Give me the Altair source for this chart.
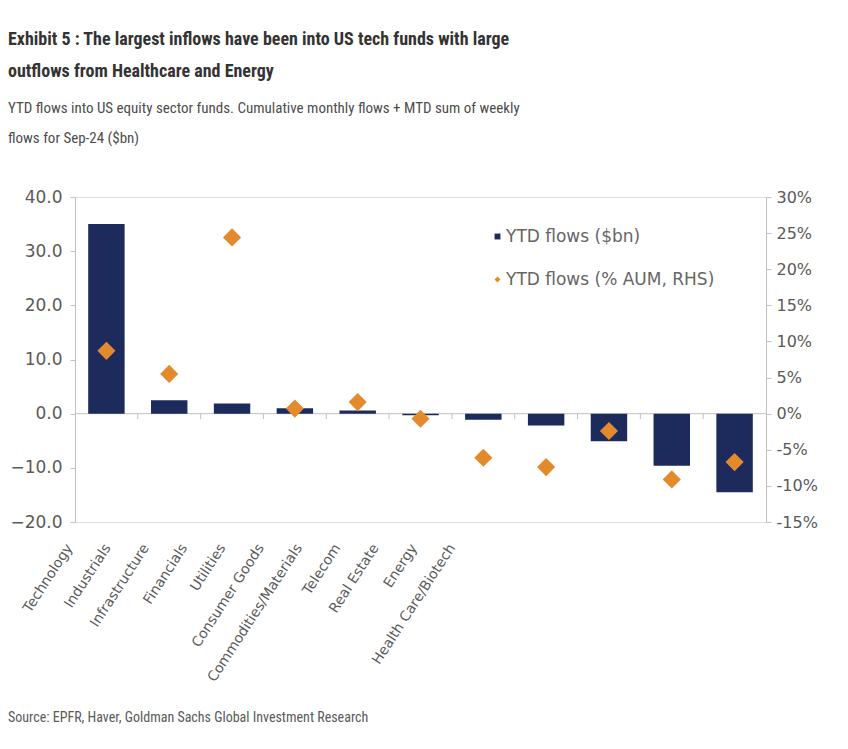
import altair as alt
import pandas as pd

categories = ["Technology", "Industrials", "Infrastructure", "Financials", "Utilities",
              "Consumer Goods", "Commodities/Materials", "Telecom", "Real Estate",
              "Energy", "Health Care/Biotech"]
flows_bn = [35.0, 2.5, 1.9, 1.0, 0.6, -0.3, -1.1, -2.2, -5.1, -9.6, -14.5]
flows_pct = [8.7, 5.5, 24.4, 0.7, 1.6, -0.7, -6.1, -7.4, -2.4, -9.1, -6.7]
series_names = ["YTD flows ($bn)", "YTD flows (% AUM, RHS)"]
left_ticks = [-20, -10, 0, 10, 20, 30, 40]
right_ticks = [-15, -10, -5, 0, 5, 10, 15, 20, 25, 30]
title_lines = ["Exhibit 5 : The largest inflows have been into US tech funds with large",
               "outflows from Healthcare and Energy"]
subtitle_lines = ["YTD flows into US equity sector funds. Cumulative monthly flows + MTD sum of weekly",
                  "flows for Sep-24 ($bn)"]
source_text = ["Source: EPFR, Haver, Goldman Sachs Global Investment Research"]

W, H = 691, 325
NAVY = "#1c2a5c"
ORANGE = "#e38b2c"
AXC = "#c0c0c0"
TXT = "#5a5a5a"
AXFONT = "DejaVu Sans"
NARROW = "Liberation Sans Narrow, Roboto Condensed, Arial Narrow, sans-serif"

bars_df = pd.DataFrame({"category": categories, "value": flows_bn, "series": series_names[0]})
pts_df = pd.DataFrame({"category": categories, "pct": flows_pct, "series": series_names[1]})
zero_df = pd.DataFrame({"v": [0]})
tick_df = pd.DataFrame({"category": categories[1:], "y0": 0.0, "y1": -1.0})
lab_df = pd.DataFrame({"category": categories})
src_df = pd.DataFrame({"t": source_text})

color_scale = alt.Scale(domain=series_names, range=[NAVY, ORANGE])
shape_scale = alt.Scale(domain=series_names, range=["square", "diamond"])


def left_scale():
    return alt.Scale(domain=[-20, 40], nice=False, zero=False)


legend = alt.Legend(orient="none", legendX=414, legendY=31, title=None, direction="vertical",
                    labelFont=AXFONT, labelFontSize=17, labelColor="#666666", symbolSize=35,
                    rowPadding=25, labelOffset=0, symbolStrokeWidth=0, labelLimit=400)

x_scale = alt.Scale(paddingInner=0.42, paddingOuter=0.21)

zero_line = alt.Chart(zero_df).mark_rule(color=AXC, strokeWidth=1).encode(
    y=alt.Y("v:Q", scale=left_scale(), axis=None))

tick_marks = alt.Chart(tick_df).mark_rule(color=AXC, strokeWidth=1, xOffset=-13.2).encode(
    x=alt.X("category:N", sort=categories, bandPosition=0, scale=x_scale, axis=None),
    y=alt.Y("y0:Q", scale=left_scale(), axis=None),
    y2="y1:Q",
)

bars = alt.Chart(bars_df).mark_bar().encode(
    x=alt.X("category:N", sort=categories, scale=x_scale, axis=None),
    y=alt.Y("value:Q", scale=left_scale(),
            axis=alt.Axis(orient="left", values=left_ticks, format=".1f", grid=False,
                          domainColor=AXC, tickColor=AXC, tickSize=5, labelColor=TXT,
                          labelFont=AXFONT, labelFontSize=17, labelPadding=8, title=None)),
    color=alt.Color("series:N", scale=color_scale, legend=legend),
)

points = alt.Chart(pts_df).mark_point(filled=True, size=330, opacity=1).encode(
    x=alt.X("category:N", sort=categories, scale=x_scale, axis=None),
    y=alt.Y("pct:Q", scale=alt.Scale(domain=[-15, 30], nice=False, zero=False),
            axis=alt.Axis(orient="right", values=right_ticks, labelExpr="datum.value + '%'",
                          grid=False, domainColor=AXC, tickColor=AXC, tickSize=5,
                          labelColor=TXT, labelFont=AXFONT, labelFontSize=16,
                          labelPadding=5, title=None)),
    color=alt.Color("series:N", scale=color_scale, legend=legend),
    shape=alt.Shape("series:N", scale=shape_scale, legend=legend),
)

main = alt.layer(zero_line, tick_marks, bars, points).resolve_scale(y="independent")

labels = alt.Chart(lab_df).mark_text(text="", opacity=0).encode(
    x=alt.X("category:N", sort=categories,
            scale=alt.Scale(range=[-25, 396], paddingInner=0, paddingOuter=0),
            axis=alt.Axis(orient="bottom", labelAngle=-57, labelAlign="right",
                          labelBaseline="middle", domain=False, ticks=False, labelPadding=23,
                          labelColor=TXT, labelFont=AXFONT, labelFontSize=14, title=None,
                          labelOverlap=False)),
    y=alt.value(0),
)

source = alt.Chart(src_df).mark_text(align="left", baseline="middle", font=NARROW,
                                     fontSize=14, color=TXT).encode(
    x=alt.value(-67), y=alt.value(H + 196), text="t:N")

chart = alt.layer(main, labels, source).resolve_scale(x="independent").properties(
    width=W, height=H,
    padding={"left": 0, "top": 23, "right": 5, "bottom": 5},
    title=alt.Title(text=title_lines, subtitle=subtitle_lines, anchor="start", frame="bounds",
                    font=NARROW, fontSize=18, fontWeight="bold", color="#333333",
                    lineHeight=32, subtitleFont=NARROW, subtitleFontSize=15,
                    subtitleColor="#4d4d4d", subtitleLineHeight=30, subtitlePadding=20,
                    offset=42),
).configure_view(stroke=None).configure(background="white")

chart.save("out.html", embed_options={"renderer": "svg", "actions": False})
